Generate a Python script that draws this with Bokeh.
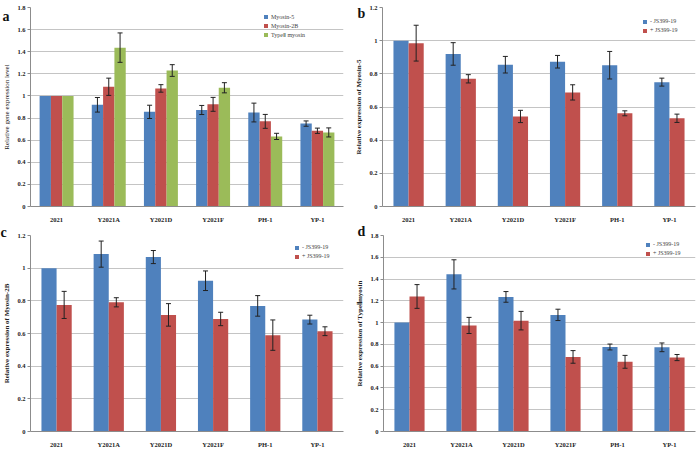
from bokeh.plotting import figure
from bokeh.models import (FactorRange, Range1d, FixedTicker, Whisker, TeeHead,
                          ColumnDataSource, Legend, LegendItem, Label, NumeralTickFormatter)
from bokeh.transform import dodge
from bokeh.layouts import column, row
from bokeh.embed import file_html
from bokeh.resources import INLINE

categories = ["2021", "Y2021A", "Y2021D", "Y2021F", "PH-1", "YP-1"]

# ---- panel a ----
a_names = ["Myosin-5", "Myosin-2B", "TypeⅡ myosin"]
a_myosin5 = [1.0, 0.92, 0.856, 0.873, 0.85, 0.75]
a_myosin5_err = [None, 0.066, 0.06, 0.041, 0.085, 0.024]
a_myosin2b = [1.0, 1.083, 1.068, 0.924, 0.77, 0.685]
a_myosin2b_err = [None, 0.078, 0.034, 0.063, 0.063, 0.024]
a_type2 = [1.0, 1.437, 1.23, 1.074, 0.634, 0.67]
a_type2_err = [None, 0.133, 0.053, 0.046, 0.028, 0.041]
a_yticks = [0, 0.2, 0.4, 0.6, 0.8, 1, 1.2, 1.4, 1.6, 1.8]
a_yticklabels = ["0", "0.2", "0.4", "0.6", "0.8", "1", "1.2", "1.4", "1.6", "1.8"]

# ---- panels b, c, d ----
bcd_names = ["- JS399-19", "+ JS399-19"]

b_minus = [1.0, 0.92, 0.855, 0.873, 0.852, 0.75]
b_minus_err = [None, 0.068, 0.05, 0.038, 0.083, 0.024]
b_plus = [0.985, 0.77, 0.543, 0.688, 0.562, 0.532]
b_plus_err = [0.108, 0.025, 0.037, 0.046, 0.015, 0.025]
b_yticks = [0, 0.2, 0.4, 0.6, 0.8, 1, 1.2]
b_yticklabels = ["0", "0.2", "0.4", "0.6", "0.8", "1", "1.2"]

c_minus = [1.0, 1.086, 1.068, 0.923, 0.769, 0.685]
c_minus_err = [None, 0.08, 0.04, 0.06, 0.063, 0.027]
c_plus = [0.775, 0.791, 0.714, 0.689, 0.59, 0.614]
c_plus_err = [0.083, 0.028, 0.069, 0.041, 0.093, 0.027]
c_yticks = [0, 0.2, 0.4, 0.6, 0.8, 1, 1.2]
c_yticklabels = ["0", "0.2", "0.4", "0.6", "0.8", "1", "1.2"]

d_minus = [1.0, 1.443, 1.236, 1.071, 0.776, 0.773]
d_minus_err = [None, 0.134, 0.049, 0.052, 0.027, 0.04]
d_plus = [1.24, 0.974, 1.018, 0.685, 0.64, 0.679]
d_plus_err = [0.109, 0.074, 0.085, 0.058, 0.059, 0.028]
d_yticks = [0, 0.2, 0.4, 0.6, 0.8, 1, 1.2, 1.4, 1.6, 1.8]
d_yticklabels = ["0", "0.2", "0.4", "0.6", "0.8", "1", "1.2", "1.4", "1.6", "1.8"]

BLUE, RED, GREEN = "#4F81BD", "#C0504D", "#9BBB59"
FONT = "Liberation Serif"
LB = 50  # fixed left border (holds axis + panel letter)


def make_panel(frame_w, br, height, bt, bb, shift, y_end, yticks, yticklabels, ylabel,
               ylabel_style, names, vals, errs, colors, bw, offs, leg_xy, letter, letter_off):
    p = figure(x_range=FactorRange(factors=categories, range_padding=0),
               y_range=Range1d(0, y_end), width=LB + frame_w + br, height=height,
               output_backend="svg", toolbar_location=None,
               min_border_left=LB, min_border_right=br,
               min_border_top=bt, min_border_bottom=bb,
               margin=(0, 0, 0, shift))
    p.border_fill_alpha = 0
    items = []
    for name, v, e, col, off in zip(names, vals, errs, colors, offs):
        src = ColumnDataSource(dict(cat=categories, val=v))
        r = p.vbar(x=dodge("cat", off, range=p.x_range), top="val", width=bw,
                   source=src, fill_color=col, line_color=None)
        items.append(LegendItem(label=name, renderers=[r]))
        ec = [c for c, ee in zip(categories, e) if ee is not None]
        eu = [vv + ee for vv, ee in zip(v, e) if ee is not None]
        el = [vv - ee for vv, ee in zip(v, e) if ee is not None]
        esrc = ColumnDataSource(dict(cat=ec, up=eu, lo=el))
        w = Whisker(source=esrc, base=dodge("cat", off, range=p.x_range),
                    upper="up", lower="lo", line_color="#222222", line_width=1,
                    level="overlay",
                    upper_head=TeeHead(size=5, line_color="#222222", line_width=1),
                    lower_head=TeeHead(size=5, line_color="#222222", line_width=1))
        p.add_layout(w)
    leg = Legend(items=items, location=leg_xy)
    leg.label_text_font = FONT
    leg.label_text_font_size = "6px"
    leg.glyph_width = 5
    leg.glyph_height = 5
    leg.label_height = 8
    leg.label_standoff = 3
    leg.spacing = 1
    leg.padding = 2
    leg.margin = 0
    leg.border_line_color = None
    leg.background_fill_alpha = 0
    p.add_layout(leg)

    p.yaxis.ticker = FixedTicker(ticks=yticks)
    p.yaxis.formatter = NumeralTickFormatter(format="0.[0]")
    p.yaxis.major_label_overrides = dict(zip(yticks, yticklabels))
    p.yaxis.axis_label = ylabel
    p.yaxis.axis_label_text_font = FONT
    p.yaxis.axis_label_text_font_size = "7px"
    p.yaxis.axis_label_text_font_style = ylabel_style
    p.yaxis.axis_label_text_color = "#222222"
    p.yaxis.axis_label_standoff = 3
    p.yaxis.major_tick_out = 3
    p.yaxis.major_tick_in = 0
    p.yaxis.minor_tick_line_color = None
    p.yaxis.major_label_standoff = 2
    p.axis.major_label_text_font = FONT
    p.axis.major_label_text_font_size = "6.5px"
    p.axis.major_label_text_font_style = "bold"
    p.axis.major_label_text_color = "#222222"
    p.axis.axis_line_color = "#8C8C8C"
    p.axis.major_tick_line_color = "#8C8C8C"
    p.xaxis.major_tick_line_color = None
    p.xaxis.major_label_standoff = 3
    p.ygrid.grid_line_color = "#C4C4C4"
    p.xgrid.grid_line_color = None
    p.outline_line_color = None

    p.add_layout(Label(x=0, y=y_end, x_offset=letter_off[0], y_offset=letter_off[1],
                       text=letter, text_font=FONT, text_font_style="bold",
                       text_font_size="14px", text_color="#111111",
                       text_baseline="alphabetic"), "left")
    return p


# frames: a 30..343, b 382..695, c 30..343, d 383..695
pa = make_panel(313, 5, 225, 7, 14, 30 - LB, 1.8, a_yticks, a_yticklabels,
                "Relative gene expression level", "normal", a_names,
                [a_myosin5, a_myosin2b, a_type2],
                [a_myosin5_err, a_myosin2b_err, a_type2_err],
                [BLUE, RED, GREEN], 0.217, [-0.217, 0, 0.217], (233, 167.5), "a", (-28, -9))
pb = make_panel(313, 1, 225, 7, 14, 382 - LB - 348, 1.2, b_yticks, b_yticklabels,
                "Relative expression of Myosin-5", "bold", bcd_names,
                [b_minus, b_plus], [b_minus_err, b_plus_err],
                [BLUE, RED], 0.29, [-0.145, 0.145], (260, 172), "b", (-25, -6))
pc = make_panel(313, 5, 225, 10, 12, 30 - LB, 1.2, c_yticks, c_yticklabels,
                "Relative expression of Myosin-2B", "bold", bcd_names,
                [c_minus, c_plus], [c_minus_err, c_plus_err],
                [BLUE, RED], 0.29, [-0.145, 0.145], (264, 171), "c", (-30, 3))
pd = make_panel(312, 1, 225, 10, 12, 383 - LB - 348, 1.8, d_yticks, d_yticklabels,
                "Relative expression of TypeⅡmyosin", "bold", bcd_names,
                [d_minus, d_plus], [d_minus_err, d_plus_err],
                [BLUE, RED], 0.29, [-0.145, 0.145], (262, 174), "d", (-26, 4))

layout = column(row(pa, pb), row(pc, pd))
open("out.html", "w").write(file_html(layout, INLINE))
